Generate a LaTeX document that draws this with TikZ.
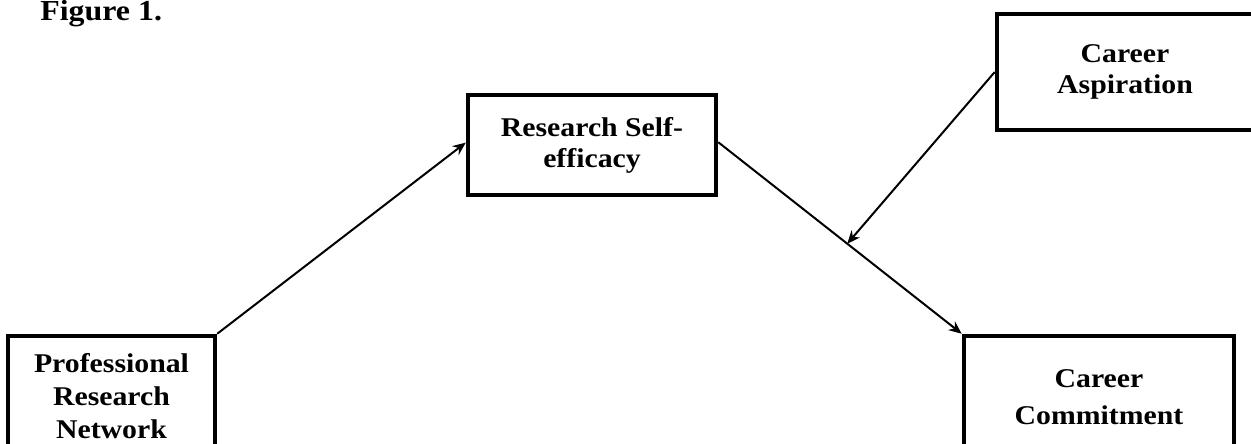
\documentclass[tikz,border=0pt]{standalone}
\usepackage{fontspec}
\setmainfont{Liberation Serif}[FakeStretch=1.1]
\usetikzlibrary{arrows.meta}
\begin{document}
\begin{tikzpicture}[scale=0.2,
  box/.style={draw=black, line width=0.09cm, inner sep=0pt, align=center,
    font=\fontsize{15.4}{17.6}\selectfont\bfseries},
  link/.style={draw=black, line width=0.04cm, -{Stealth[length=2.6mm,width=2.2mm]}}]
\useasboundingbox (0,0) rectangle (125.1,-44.3);
\node [anchor=base west, inner sep=0pt, font=\fontsize{16.5}{18}\selectfont\bfseries] (fig) at (4.0,-2.0) {Figure 1.};
% the four variables
\node [box, minimum width=4.96cm, minimum height=2cm] (rse) at (59.2,-14.5) {Research Self-\\efficacy};
\node [box, minimum width=5.12cm, minimum height=2.32cm] (ca) at (112.5,-7.2) {Career\\Aspiration};
\node [box, minimum width=4.14cm, minimum height=2.4cm] (prn) at (11.15,-39.6) {Professional\\[0.04cm]Research\\[0.04cm]Network};
\node [box, minimum width=5.4cm, minimum height=2.44cm] (cc) at (109.9,-39.7) {Career\\[0.12cm]Commitment};
% paths
\draw [link] (prn.north east) -- ([yshift=0.24cm]rse.west);
\draw [link] ([yshift=0.28cm]rse.east) -- coordinate[pos=0.53] (mod) (cc.north west);
\draw [link] (ca.west) -- (mod);
\end{tikzpicture}
\end{document}
